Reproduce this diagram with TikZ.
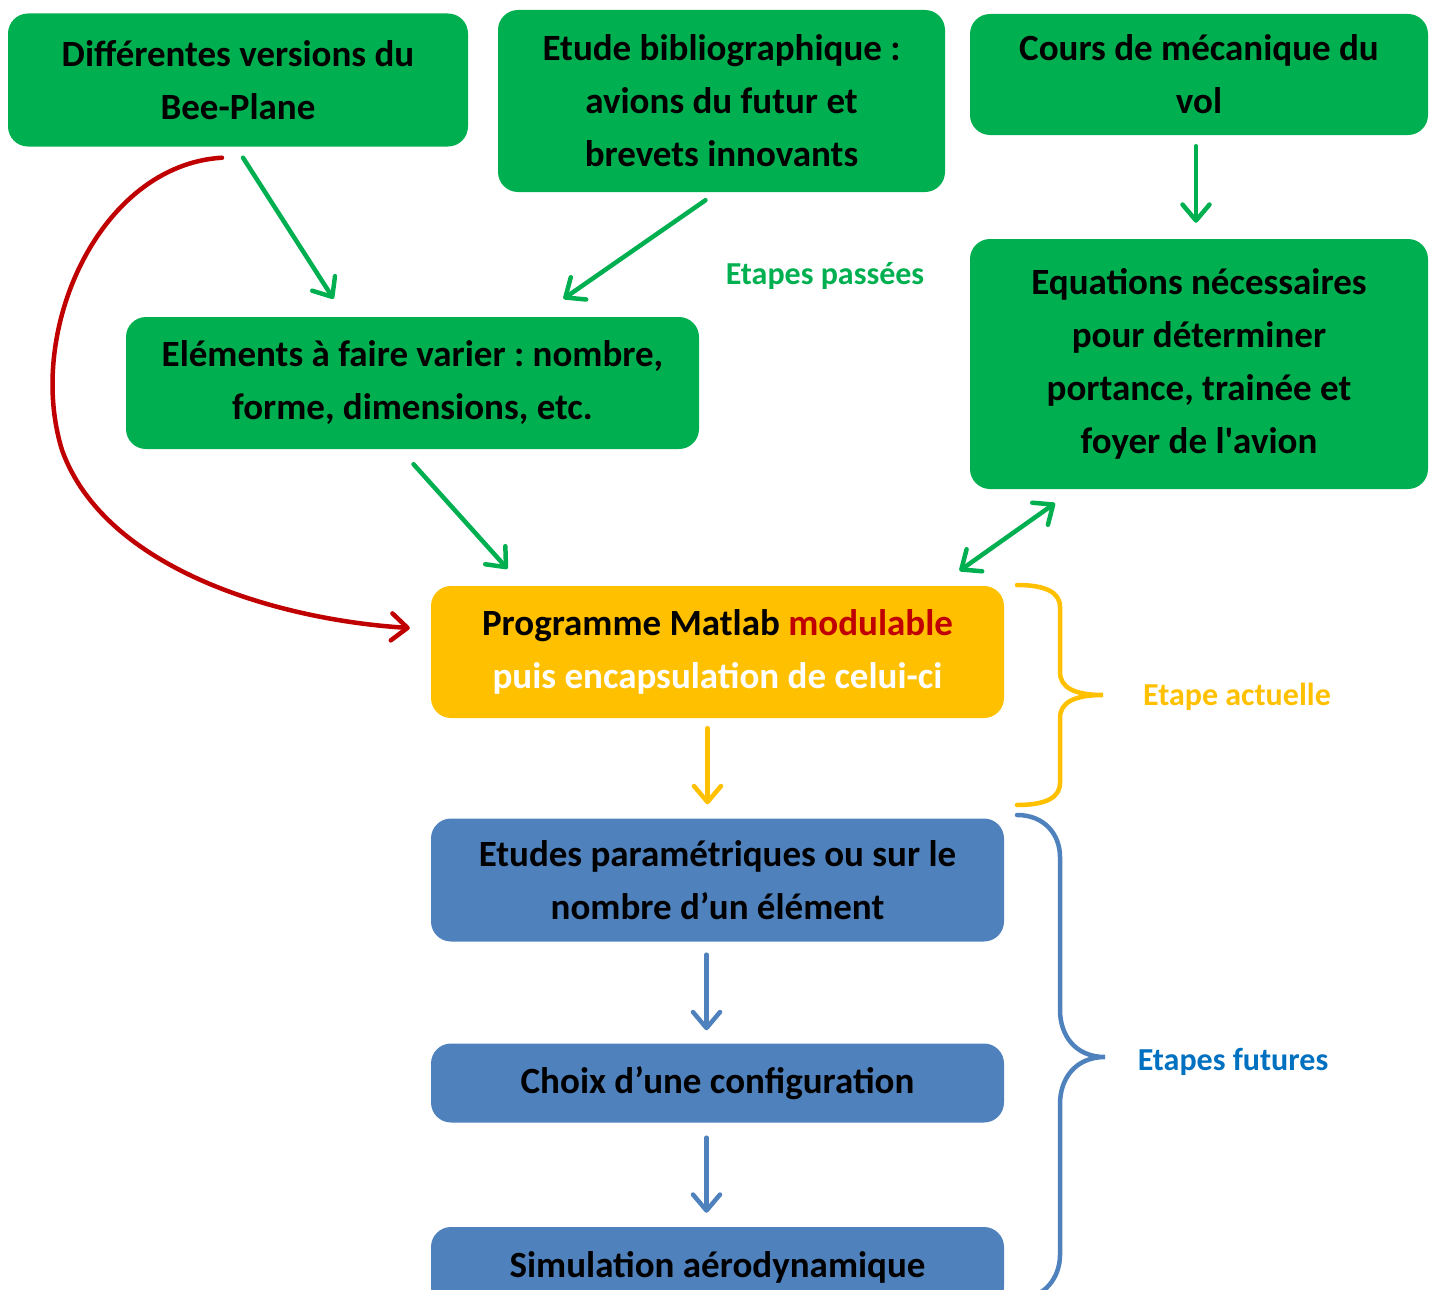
\documentclass[tikz,border=0pt]{standalone}
\usepackage{fontspec}
\setmainfont{Carlito}
\usetikzlibrary{arrows.meta,calc}
\definecolor{vert}{HTML}{00B050}
\definecolor{jaune}{HTML}{FFC000}
\definecolor{rouge}{HTML}{C00000}
\definecolor{bleu}{HTML}{4F81BD}
\definecolor{bleutxt}{HTML}{0070C0}
\frenchspacing
\begin{document}
\begin{tikzpicture}[x=1pt,y=-1pt,
    boite/.style={rounded corners=20pt, inner sep=0pt, align=center,
      font=\bfseries\fontsize{37pt}{53pt}\selectfont},
    fleche/.style={line width=4.5pt, line cap=round,
      -{Straight Barb[length=16pt,width=27pt,line cap=round,line join=round]}},
    etiquette/.style={font=\bfseries\fontsize{32pt}{36pt}\selectfont},
    accolade/.style={line width=4.5pt, line cap=round}]
  \useasboundingbox (0,0) rectangle (1435,1290);
  % etapes passees
  \node[boite, fill=vert, minimum width=460pt, minimum height=133pt] (b1) at (238,80)
    {Différentes versions du\\Bee-Plane};
  \node[boite, fill=vert, minimum width=447pt, minimum height=182pt] (b2) at (721.5,101)
    {Etude bibliographique :\\avions du futur et\\brevets innovants};
  \node[boite, fill=vert, minimum width=458pt, minimum height=121pt] (b3) at (1199,74.5)
    {Cours de mécanique du\\vol};
  \node[boite, fill=vert, minimum width=573pt, minimum height=132pt] (b4) at (412.5,383)
    {Eléments à faire varier : nombre,\\forme, dimensions, etc.};
  \node[boite, fill=vert, minimum width=458pt, minimum height=250pt] (b5) at (1199,364)
    {Equations nécessaires\\pour déterminer\\portance, trainée et\\foyer de l\textquotesingle avion};
  % etape actuelle
  \node[boite, fill=jaune, minimum width=573pt, minimum height=132pt] (b6) at (717.5,652)
    {Programme Matlab \textcolor{rouge}{modulable}\\\textcolor{white}{puis encapsulation de celui-ci}};
  % etapes futures
  \node[boite, fill=bleu, minimum width=573pt, minimum height=123pt] (b7) at (717.5,880)
    {Etudes paramétriques ou sur le\\nombre d’un élément};
  \node[boite, fill=bleu, minimum width=573pt, minimum height=79pt] (b8) at (717.5,1083)
    {Choix d’une configuration};
  \node[boite, fill=bleu, minimum width=573pt, minimum height=80pt] (b9) at (717.5,1267)
    {Simulation aérodynamique};
  % liaisons
  \draw[fleche, vert] ($(b1.south)+(5,11)$) -- ($(b4.north)+(-79,-18)$);
  \draw[fleche, vert] ($(b2.south)+(-16,8)$) -- ($(b4.north)+(151,-18)$);
  \draw[fleche, vert] ($(b3.south)+(-3,11)$) -- ($(b5.north)+(-3,-16)$);
  \draw[fleche, vert] ($(b4.south)+(1,15)$) -- ($(b6.north)+(-210,-17)$);
  \draw[fleche, vert, {Straight Barb[length=16pt,width=27pt,line cap=round,line join=round]}-{Straight Barb[length=16pt,width=27pt,line cap=round,line join=round]}]
    ($(b6.north)+(242,-15)$) -- ($(b5.south)+(-144,14)$);
  \draw[fleche, rouge] ($(b1.south)+(-16,11)$) .. controls (100,165) and (25,330) .. (62,450)
    .. controls (105,570) and (280,620) .. ($(b6.west)+(-21,-24)$);
  \draw[fleche, jaune] ($(b6.south)+(-10,10)$) -- ($(b7.north)+(-10,-14)$);
  \draw[fleche, bleu] ($(b7.south)+(-11,13)$) -- ($(b8.north)+(-11,-13)$);
  \draw[fleche, bleu] ($(b8.south)+(-11,15)$) -- ($(b9.north)+(-11,-14)$);
  % accolades
  \draw[accolade, jaune] (1017,585) .. controls (1045,585) and (1060,592) .. (1060,607)
    -- (1060,672) .. controls (1060,688) and (1075,695) .. (1103,695)
    .. controls (1075,695) and (1060,702) .. (1060,718) -- (1060,783)
    .. controls (1060,798) and (1045,805) .. (1017,805);
  \draw[accolade, bleu] (1017,815) .. controls (1045,815) and (1060,835) .. (1060,857)
    -- (1060,1010) .. controls (1060,1035) and (1075,1057) .. (1105,1057)
    .. controls (1075,1057) and (1060,1079) .. (1060,1104) -- (1060,1255)
    .. controls (1060,1277) and (1045,1299) .. (1017,1299);
  \node[etiquette, text=vert] (passe) at (825,276) {Etapes passées};
  \node[etiquette, text=jaune] (actuel) at (1237,697) {Etape actuelle};
  \node[etiquette, text=bleutxt] (futur) at (1233,1062) {Etapes futures};
\end{tikzpicture}
\end{document}
